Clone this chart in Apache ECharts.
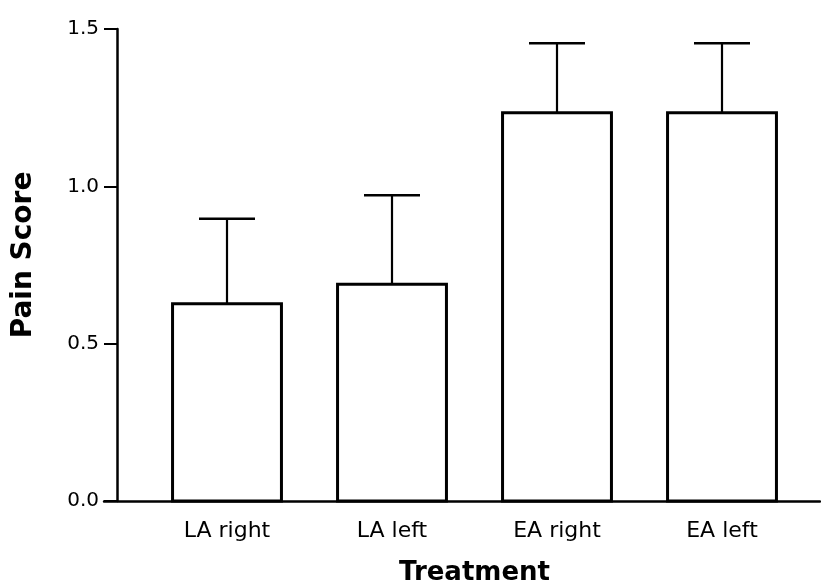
<!DOCTYPE html>
<html>
<head>
<meta charset="utf-8">
<script src="https://cdn.jsdelivr.net/npm/echarts@6/dist/echarts.min.js"></script>
<style>html,body{margin:0;padding:0;background:#fff}#c{width:821px;height:587px}</style>
</head>
<body>
<div id="c"></div>
<script>
var categories = ['LA right', 'LA left', 'EA right', 'EA left'];
var means = [0.627, 0.689, 1.234, 1.234];
var sems = [0.270, 0.283, 0.221, 0.221];
var yTicks = [0, 0.5, 1.0, 1.5];

var FONT = '"DejaVu Sans", "Liberation Sans", Arial, sans-serif';
var chart = echarts.init(document.getElementById('c'), null, {renderer: 'canvas'});

var barData = categories.map(function (c, i) { return [i, means[i]]; });
var errData = categories.map(function (c, i) { return [i, means[i], means[i] + sems[i]]; });

chart.setOption({
  backgroundColor: '#fff',
  animation: false,
  grid: [
    {left: 144.5, right: 16.5, top: 29, bottom: 86, containLabel: false, outerBoundsMode: 'none'},
    {left: 104, right: 1, top: 29, bottom: 86, containLabel: false, outerBoundsMode: 'none'}
  ],
  xAxis: [
    {
      type: 'category', gridIndex: 0, data: categories,
      axisLine: {show: false}, axisTick: {show: false},
      axisLabel: {color: '#000', fontFamily: FONT, fontSize: 22, margin: 19},
      name: 'Treatment', nameLocation: 'middle', nameGap: 59,
      nameTextStyle: {color: '#000', fontFamily: FONT, fontSize: 26, fontWeight: 'bold'}
    },
    {
      type: 'value', gridIndex: 1, min: 0, max: 1,
      axisLine: {show: true, lineStyle: {color: '#000', width: 2.5}},
      axisTick: {show: false}, axisLabel: {show: false}, splitLine: {show: false}
    }
  ],
  yAxis: [
    {
      type: 'value', gridIndex: 0, min: 0, max: 1.5, interval: 0.5,
      show: false
    },
    {
      type: 'value', gridIndex: 1, min: 0, max: 1.5, interval: 0.5,
      offset: -13,
      axisLine: {show: true, lineStyle: {color: '#000', width: 2.5}},
      axisTick: {show: true, length: 13, lineStyle: {color: '#000', width: 2}},
      axisLabel: {color: '#000', fontFamily: FONT, fontSize: 20, margin: 18,
        formatter: function (v) { return v.toFixed(1); }},
      splitLine: {show: false},
      name: 'Pain Score', nameLocation: 'middle', nameGap: 79, nameRotate: 90,
      nameTextStyle: {color: '#000', fontFamily: FONT, fontSize: 28, fontWeight: 'bold',
        padding: [0, 0, 0, 20]}
    }
  ],
  series: [
    {
      type: 'custom', xAxisIndex: 0, yAxisIndex: 0,
      data: barData, z: 3,
      renderItem: function (params, api) {
        var x = api.value(0);
        var top = api.coord([x, api.value(1)]);
        var base = api.coord([x, 0]);
        var w = api.size([1, 0])[0] * 0.66;
        return {
          type: 'rect',
          shape: {x: top[0] - w / 2, y: top[1], width: w, height: base[1] - top[1]},
          style: {fill: '#fff', stroke: '#000', lineWidth: 3}
        };
      }
    },
    {
      type: 'custom', xAxisIndex: 0, yAxisIndex: 0,
      data: errData, z: 4,
      renderItem: function (params, api) {
        var x = api.value(0);
        var lo = api.coord([x, api.value(1)]);
        var hi = api.coord([x, api.value(2)]);
        var half = 28;
        return {
          type: 'group',
          children: [
            {type: 'line', shape: {x1: lo[0], y1: lo[1], x2: hi[0], y2: hi[1]},
             style: {stroke: '#000', lineWidth: 2.2}},
            {type: 'line', shape: {x1: hi[0] - half, y1: hi[1], x2: hi[0] + half, y2: hi[1]},
             style: {stroke: '#000', lineWidth: 2.5}}
          ]
        };
      }
    }
  ]
});
</script>
</body>
</html>
